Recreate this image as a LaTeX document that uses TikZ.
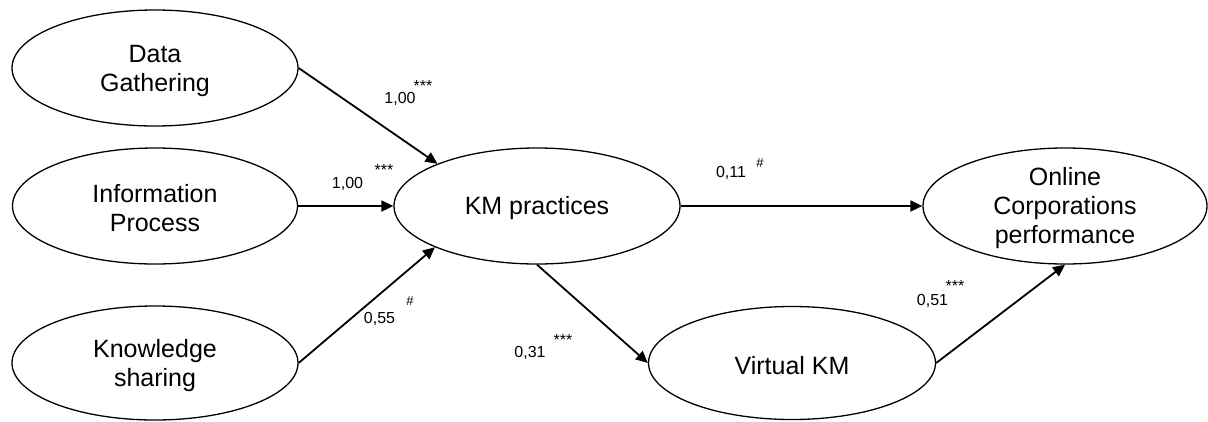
\documentclass[tikz,border=0pt]{standalone}
\usepackage{fontspec}
\setmainfont{Liberation Sans}
\usetikzlibrary{shapes.geometric,arrows.meta}
\tikzset{
  oval/.style={ellipse, draw, line width=1.3pt, inner sep=0pt},
  ovaltext/.style={align=center, inner sep=0pt, yshift=-2.5pt, font=\fontsize{25}{29}\selectfont},
  conn/.style={line width=1.8pt, -{Triangle[length=12pt,width=11pt]}},
  num/.style={anchor=base, inner sep=0pt, font=\fontsize{16}{18}\selectfont},
  star/.style={anchor=base, inner sep=0pt, font=\fontsize{16}{18}\selectfont},
  hash/.style={anchor=base, inner sep=0pt, font=\fontsize{13}{14}\selectfont}
}
\begin{document}
\begin{tikzpicture}[x=1pt,y=-1pt]
\useasboundingbox (0,0) rectangle (1208,421);
% ellipses
\node[oval, minimum width=286pt, minimum height=116pt] (dg) at (155,68) {};
\node[oval, minimum width=285pt, minimum height=116pt] (ip) at (155,206) {};
\node[oval, minimum width=286pt, minimum height=114pt] (ks) at (155,363) {};
\node[oval, minimum width=286pt, minimum height=116pt] (km) at (537,206) {};
\node[oval, minimum width=284pt, minimum height=116pt] (op) at (1065,206) {};
\node[oval, minimum width=287pt, minimum height=113pt] (vk) at (792,363) {};
% texts
\node[ovaltext] (dgt) at (dg) {Data\\Gathering};
\node[ovaltext] (ipt) at (ip) {Information\\Process};
\node[ovaltext] (kst) at (ks) {Knowledge\\sharing};
\node[ovaltext] (kmt) at (km) {KM practices};
\node[ovaltext] (opt) at (op) {Online\\Corporations\\performance};
\node[ovaltext] (vkt) at (vk) {Virtual KM};
% connectors
\draw[conn] (dg.east) -- (km.157);
\draw[conn] (ip.east) -- (km.west);
\draw[conn] (ks.east) -- (km.202);
\draw[conn] (km.east) -- (op.west);
\draw[conn] (km.south) -- (vk.west);
\draw[conn] (vk.east) -- (op.south);
% labels
\node[num] (l1) at (400,103) {1,00};
\node[star] (s1) at (423,91) {***};
\node[num] (l2) at (347.5,188) {1,00};
\node[star] (s2) at (384,175) {***};
\node[num] (l3) at (731,177) {0,11};
\node[hash] (h3) at (760,167) {\#};
\node[num] (l4) at (379.5,323) {0,55};
\node[hash] (h4) at (410,305) {\#};
\node[num] (l5) at (530,357) {0,31};
\node[star] (s5) at (563,345) {***};
\node[num] (l6) at (932.5,305) {0,51};
\node[star] (s6) at (955,291) {***};
\end{tikzpicture}
\end{document}
